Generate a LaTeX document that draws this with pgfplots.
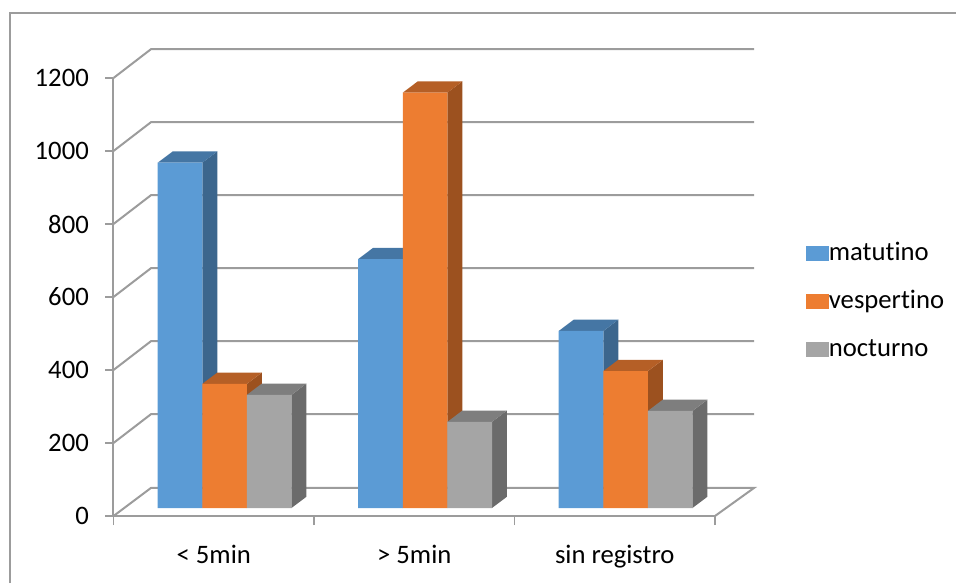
\documentclass[border=0pt]{standalone}
\usepackage{fontspec}
\setmainfont[Ligatures=NoCommon]{Carlito}
\usepackage{pgfplots}
\pgfplotsset{compat=1.18}

\definecolor{wallgrey}{HTML}{9C9C9C}
\definecolor{frontblue}{HTML}{5B9BD5}
\definecolor{topblue}{HTML}{4576A4}
\definecolor{sideblue}{HTML}{3C668D}
\definecolor{frontorange}{HTML}{ED7D31}
\definecolor{toporange}{HTML}{B55F26}
\definecolor{sideorange}{HTML}{9C511F}
\definecolor{frontgrey}{HTML}{A5A5A5}
\definecolor{topgrey}{HTML}{7E7E7E}
\definecolor{sidegrey}{HTML}{6B6B6B}

% Top and side faces of one bar: category, slot (-1, 0, 1), value, colour stem
\newcommand\barfaces[4]{%
  \pgfmathsetmacro\xl{#1+#2*0.2224-0.1112}%
  \pgfmathsetmacro\xr{#1+#2*0.2224+0.1112}%
  \pgfmathsetmacro\xlb{\xl+0.0748}%
  \pgfmathsetmacro\xrb{\xr+0.0748}%
  \pgfmathsetmacro\vb{#3+31}%
  \edef\facecmd{%
    \noexpand\addplot[forget plot,draw=none,fill=side#4] coordinates
      {(\xr,0) (\xrb,31) (\xrb,\vb) (\xr,#3)} --cycle;
    \noexpand\addplot[forget plot,draw=none,fill=top#4] coordinates
      {(\xl,#3) (\xlb,\vb) (\xrb,\vb) (\xr,#3)} --cycle;}%
  \facecmd}

% Legend key: square swatch on the text baseline, with the gap before the entry
\newcommand\legendkey[1]{%
  \path (0pt,0pt) rectangle (17pt,11.25pt);
  \fill[#1] (0pt,0pt) rectangle (11.25pt,11.25pt);}

\begin{document}
\begin{tikzpicture}
  \useasboundingbox (-85.125pt,-50.25pt) rectangle (631.875pt,387pt);
  % chart area border: left and top edges
  \draw[wallgrey,line width=1.1pt] (-77.6pt,-50.25pt) -- (-77.6pt,377.25pt) -- (631.875pt,377.25pt);

  % walls, floor and value axis
  \begin{axis}[
    scale only axis, width=451.125pt, height=328.5pt,
    xmin=-0.5, xmax=2.5, ymin=0, ymax=1200, clip=false,
    axis lines=left, axis line style={-,wallgrey,line width=1.5pt},
    xtick={0,1,2}, xticklabels={< 5min,> 5min,sin registro},
    minor xtick={-0.5,0.5,1.5,2.5},
    ytick={0,200,...,1200},
    tick align=outside, major tick length=6pt, minor tick length=6.75pt,
    tick style={wallgrey,line width=1.1pt},
    major x tick style={draw=none},
    every tick label/.append style={text=black,font=\fontsize{20}{24}\selectfont},
    xticklabel style={yshift=-12pt},
    yticklabel style={xshift=-9pt},
    /pgf/number format/assume math mode=true,
    /pgf/number format/1000 sep={},
    grid=none,
  ]
    \addplot[wallgrey,line width=1.5pt] coordinates {(-0.5,0) (-0.313,77) (2.695,77) (2.5,0)};
    \addplot[wallgrey,line width=1.5pt] coordinates {(-0.5,200) (-0.313,279) (2.695,279)};
    \addplot[wallgrey,line width=1.5pt] coordinates {(-0.5,400) (-0.313,479) (2.695,479)};
    \addplot[wallgrey,line width=1.5pt] coordinates {(-0.5,600) (-0.313,679) (2.695,679)};
    \addplot[wallgrey,line width=1.5pt] coordinates {(-0.5,800) (-0.313,879) (2.695,879)};
    \addplot[wallgrey,line width=1.5pt] coordinates {(-0.5,1000) (-0.313,1079) (2.695,1079)};
    \addplot[wallgrey,line width=1.5pt] coordinates {(-0.5,1200) (-0.313,1279) (2.695,1279)};
  \end{axis}

  % bars, set slightly into the floor
  \begin{axis}[
    at={(8.14pt,6pt)}, anchor=south west,
    scale only axis, width=451.125pt, height=328.5pt,
    xmin=-0.5, xmax=2.5, ymin=0, ymax=1200, clip=false, hide axis,
    legend style={
      at={(1.1332,0.4703)}, anchor=west, draw=none, fill=none,
      inner sep=0pt, row sep=18pt, cells={anchor=base west},
      nodes={inner sep=0pt, text height=14pt, text depth=4pt,
             font=\fontsize{20}{24}\selectfont},
    },
  ]
    \barfaces{0}{-1}{946}{blue}
    \barfaces{1}{-1}{682}{blue}
    \barfaces{2}{-1}{485}{blue}
    \addplot[ybar, bar width=33.45pt, bar shift=-33.45pt, draw=none, fill=frontblue,
      legend image code/.code={\legendkey{frontblue}}]
      coordinates {(0,946) (1,682) (2,485)};
    \addlegendentry{matutino}

    \barfaces{0}{0}{340}{orange}
    \barfaces{1}{0}{1138}{orange}
    \barfaces{2}{0}{375}{orange}
    \addplot[ybar, bar width=33.45pt, bar shift=0pt, draw=none, fill=frontorange,
      legend image code/.code={\legendkey{frontorange}}]
      coordinates {(0,340) (1,1138) (2,375)};
    \addlegendentry{vespertino}

    \barfaces{0}{1}{310}{grey}
    \barfaces{1}{1}{236}{grey}
    \barfaces{2}{1}{266}{grey}
    \addplot[ybar, bar width=33.45pt, bar shift=33.45pt, draw=none, fill=frontgrey,
      legend image code/.code={\legendkey{frontgrey}}]
      coordinates {(0,310) (1,236) (2,266)};
    \addlegendentry{nocturno}
  \end{axis}
\end{tikzpicture}
\end{document}
